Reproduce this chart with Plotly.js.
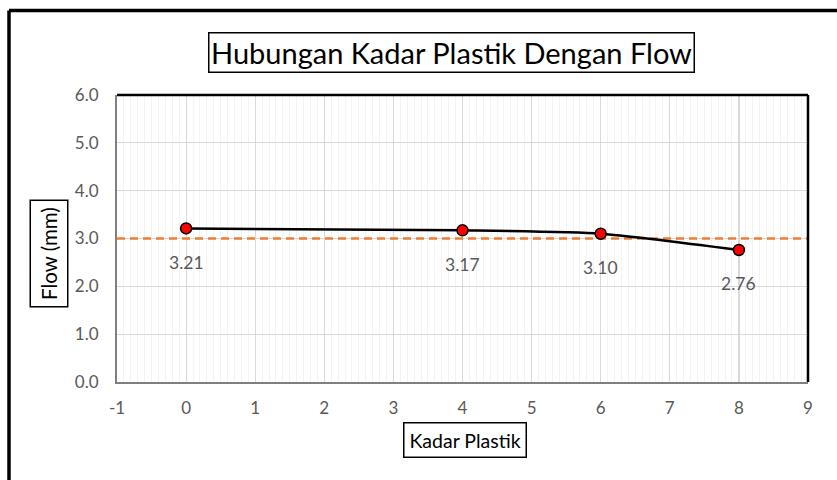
<!DOCTYPE html>
<html>
<head>
<meta charset="utf-8">
<script src="https://cdn.plot.ly/plotly-3.0.1.min.js"></script>
<style>html,body{margin:0;padding:0;background:#fff;}#chart{width:837px;height:480px;}</style>
</head>
<body>
<div id="chart"></div>
<script>
// Data
var kadarPlastik = [0, 4, 6, 8];
var flow = [3.21, 3.17, 3.10, 2.76];
var flowLabels = ["3.21", "3.17", "3.10", "2.76"];
var limitX = [-1, 9];
var limitY = [3.0, 3.0];
var xTickVals = [-1, 0, 1, 2, 3, 4, 5, 6, 7, 8, 9];
var xTickText = ["-1", "0", "1", "2", "3", "4", "5", "6", "7", "8", "9"];
var yTickVals = [0, 1, 2, 3, 4, 5, 6];
var yTickText = ["0.0", "1.0", "2.0", "3.0", "4.0", "5.0", "6.0"];

var FONT = "Lato, 'Open Sans', sans-serif";

var traces = [
  {
    x: limitX, y: limitY, mode: 'lines', type: 'scatter',
    line: {color: '#ed7d31', width: 2.5, dash: '8px,5px'},
    hoverinfo: 'skip', showlegend: false
  },
  {
    x: kadarPlastik, y: flow, mode: 'lines+markers', type: 'scatter',
    line: {color: '#000000', width: 2.5, shape: 'spline', smoothing: 0.6},
    marker: {color: '#ff0000', size: 11, line: {color: '#000000', width: 1.5}},
    showlegend: false
  }
];

var annotations = kadarPlastik.map(function(x, i) {
  return {
    x: x, y: flow[i], xref: 'x', yref: 'y', text: flowLabels[i],
    showarrow: false, yshift: -34,
    font: {family: FONT, size: 17.5, color: '#595959'}
  };
});

annotations.push({
  xref: 'paper', yref: 'paper', x: 0.4834, y: 1.148,
  xanchor: 'center', yanchor: 'middle', showarrow: false,
  text: 'Hubungan Kadar Plastik Dengan Flow',
  font: {family: FONT, size: 29, color: '#000000'},
  bordercolor: '#000000', borderwidth: 1.5, borderpad: 1.5, bgcolor: '#ffffff'
});
annotations.push({
  xref: 'paper', yref: 'paper', x: 0.5036, y: -0.2038,
  xanchor: 'center', yanchor: 'middle', showarrow: false,
  text: 'Kadar Plastik',
  font: {family: FONT, size: 19.5, color: '#000000'},
  bordercolor: '#000000', borderwidth: 1.5, borderpad: 5, bgcolor: '#ffffff'
});
annotations.push({
  xref: 'paper', yref: 'paper', x: -0.0984, y: 0.4477,
  xanchor: 'center', yanchor: 'middle', showarrow: false,
  text: 'Flow (mm)', textangle: -90,
  font: {family: FONT, size: 20.5, color: '#000000'},
  bordercolor: '#000000', borderwidth: 1.5, borderpad: 6, bgcolor: '#ffffff'
});

var layout = {
  width: 837, height: 480,
  margin: {l: 117, r: 29, t: 95, b: 98},
  paper_bgcolor: '#ffffff', plot_bgcolor: '#ffffff',
  font: {family: FONT},
  xaxis: {
    range: [-1, 9], tickvals: xTickVals, ticktext: xTickText, ticks: '',
    showgrid: true, gridcolor: '#d9d9d9', gridwidth: 1.2,
    minor: {dtick: 0.1, showgrid: true, gridcolor: '#f3f3f3', gridwidth: 1},
    showline: true, linecolor: '#808080', linewidth: 2,
    zeroline: false, tickfont: {family: FONT, size: 17, color: '#595959'},
    ticklabelstandoff: 10, fixedrange: true
  },
  yaxis: {
    range: [0, 6], tickvals: yTickVals, ticktext: yTickText, ticks: '',
    showgrid: true, gridcolor: '#d9d9d9', gridwidth: 1.2,
    showline: true, linecolor: '#808080', linewidth: 2,
    zeroline: false, tickfont: {family: FONT, size: 17, color: '#595959'},
    ticklabelstandoff: 13, fixedrange: true
  },
  shapes: [
    {type: 'line', xref: 'paper', yref: 'paper', x0: 0, x1: 1, y0: 1, y1: 1, line: {color: '#000000', width: 2.5}},
    {type: 'line', xref: 'paper', yref: 'paper', x0: 1, x1: 1, y0: 0, y1: 1, line: {color: '#000000', width: 2.5}},
    {type: 'line', xref: 'paper', yref: 'paper', x0: -0.1563, x1: 1.05, y0: 1.2944, y1: 1.2944, line: {color: '#000000', width: 3.5}},
    {type: 'line', xref: 'paper', yref: 'paper', x0: -0.1563, x1: -0.1563, y0: 1.2944, y1: -0.36, line: {color: '#000000', width: 3.5}}
  ],
  annotations: annotations
};

Plotly.newPlot('chart', traces, layout, {displayModeBar: false, staticPlot: true});
</script>
</body>
</html>
